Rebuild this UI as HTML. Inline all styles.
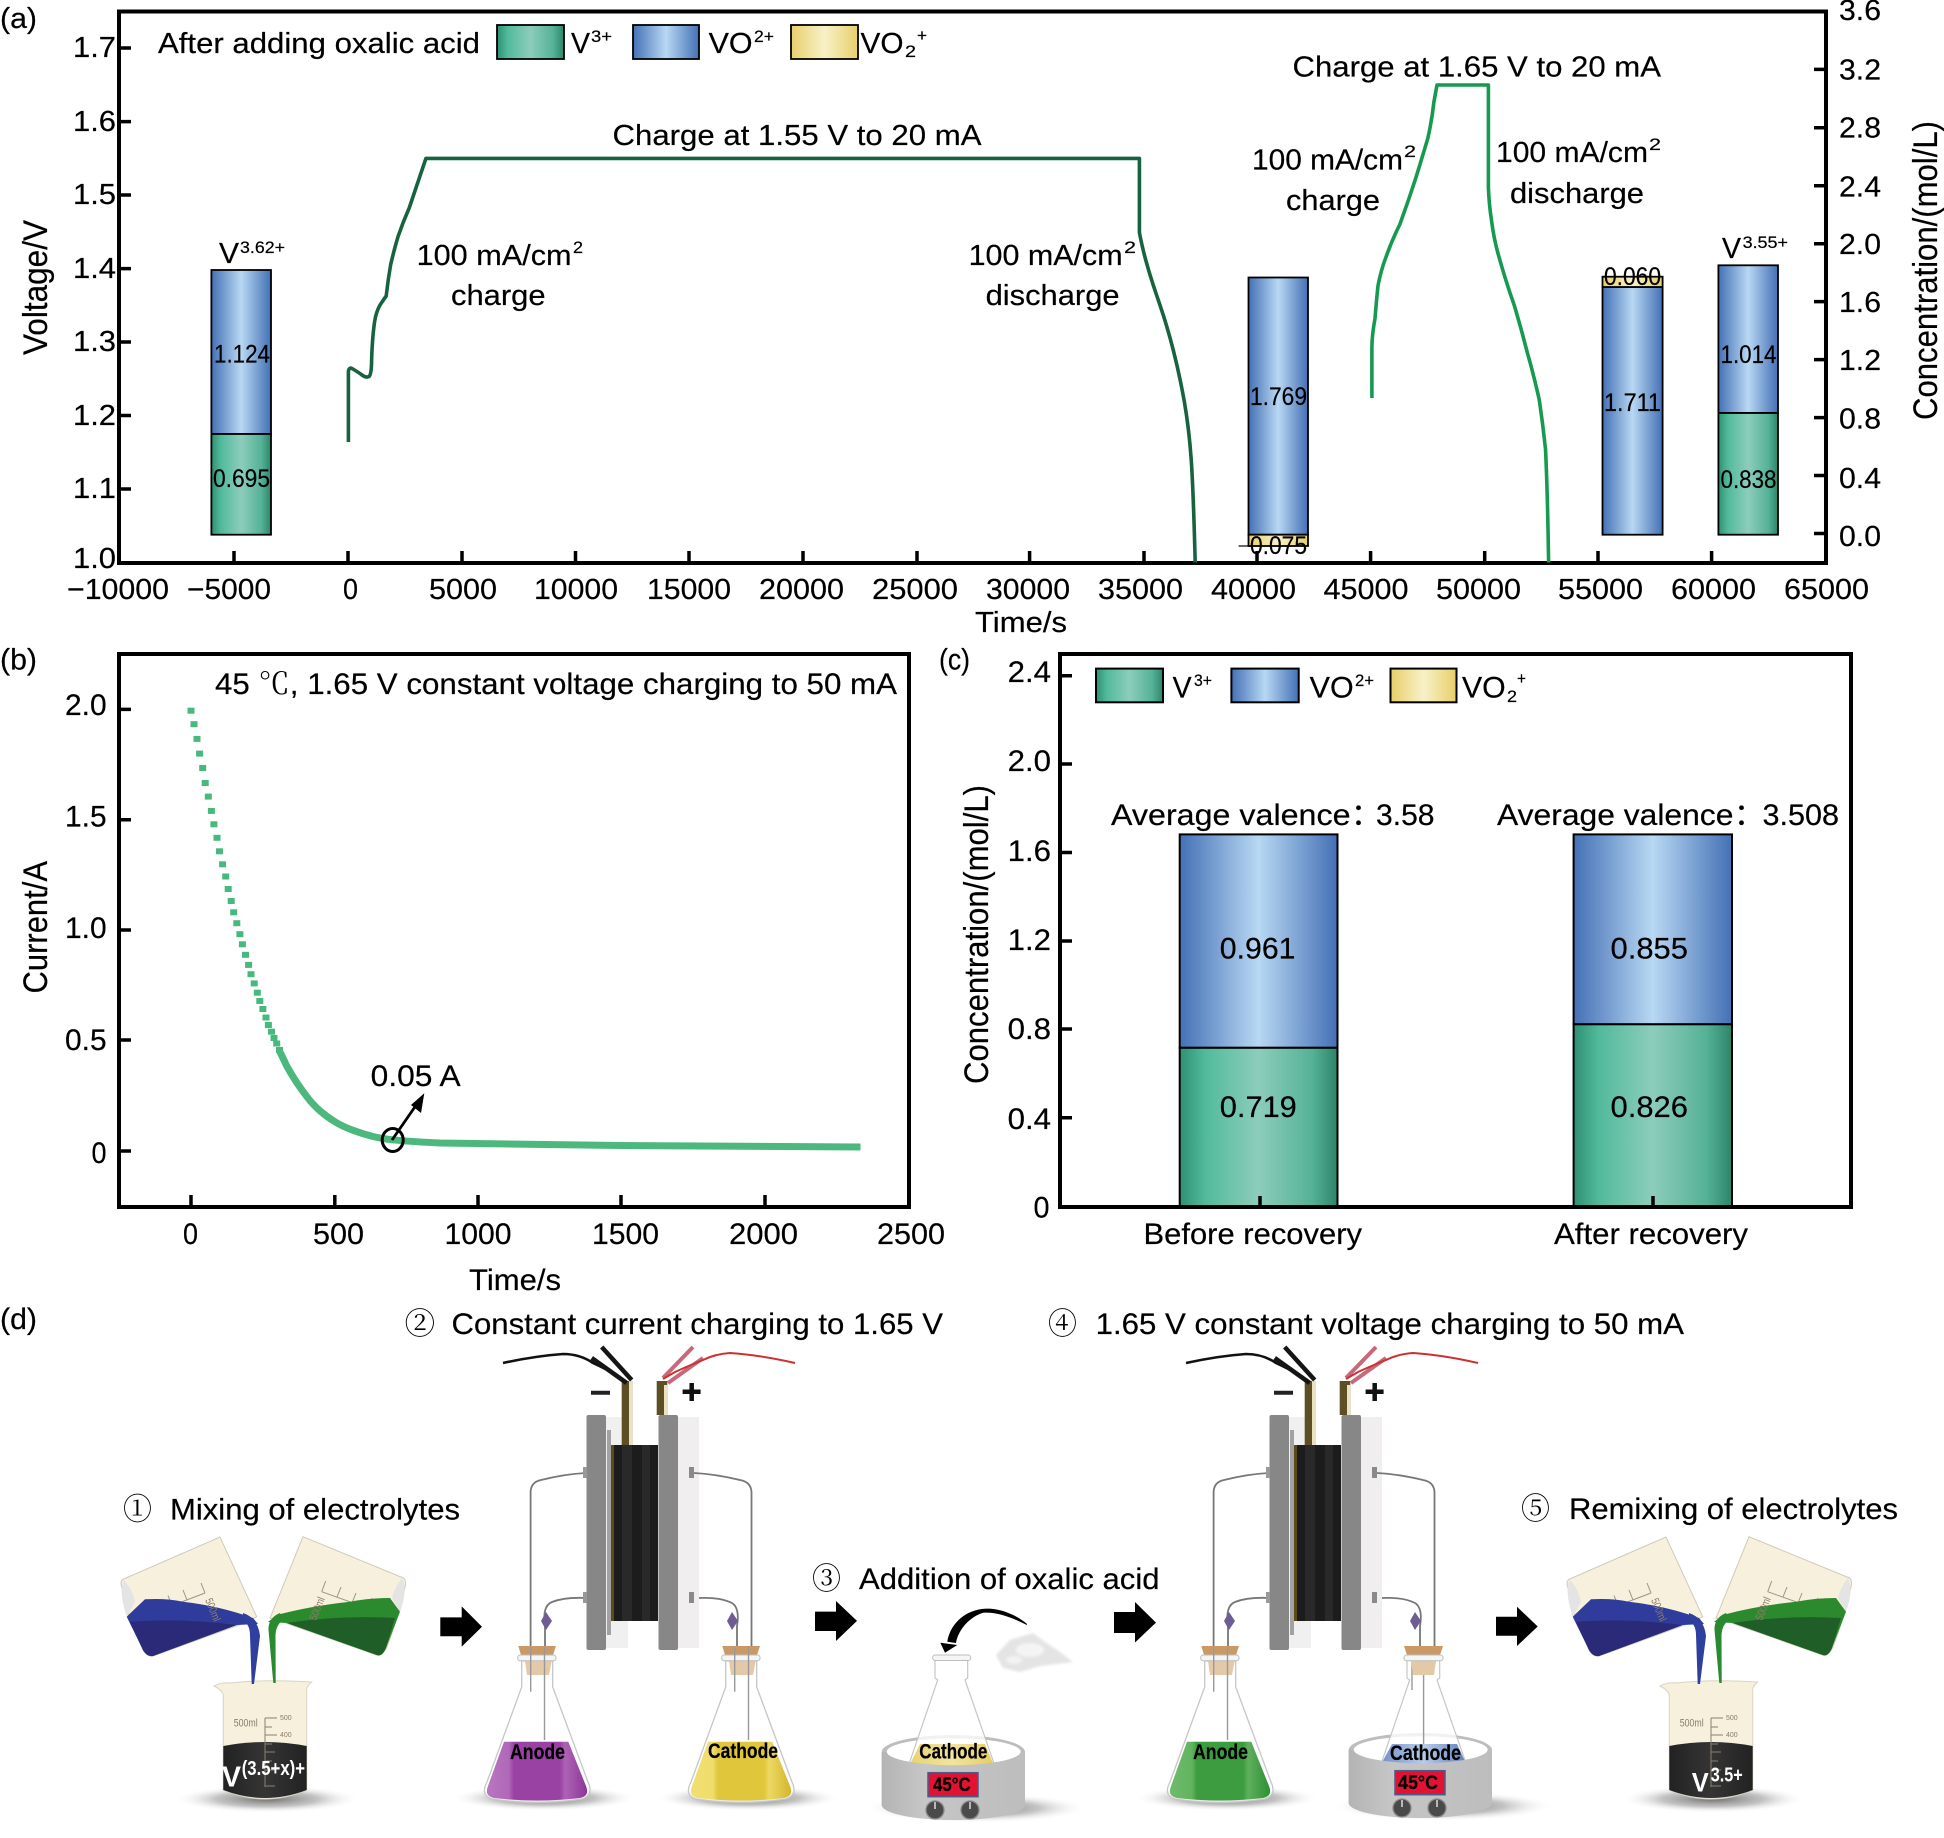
<!DOCTYPE html>
<html><head><meta charset="utf-8"><title>Figure</title>
<style>
html,body{margin:0;padding:0;background:#fff}
svg{display:block}
text{font-family:"Liberation Sans","Noto Sans CJK SC",sans-serif;fill:#000;stroke:#000;stroke-width:.2}
.s{font-family:"Noto Serif CJK SC","Liberation Serif",serif;stroke:none}
.w{fill:#fff;stroke:none}
.g{fill:#8a7d68;stroke:none}
</style></head><body>
<svg width="1944" height="1838" viewBox="0 0 1944 1838" xmlns="http://www.w3.org/2000/svg">
<defs>
<linearGradient id="gG"><stop offset="0" stop-color="#2f8f72"/><stop offset=".16" stop-color="#52ba9c"/><stop offset=".5" stop-color="#8ccdbb"/><stop offset=".84" stop-color="#55b296"/><stop offset="1" stop-color="#2c8469"/></linearGradient>
<linearGradient id="gB"><stop offset="0" stop-color="#4470b5"/><stop offset=".5" stop-color="#b8d8f3"/><stop offset="1" stop-color="#4470b5"/></linearGradient>
<linearGradient id="gY"><stop offset="0" stop-color="#e8cf6a"/><stop offset=".5" stop-color="#f8f1c8"/><stop offset="1" stop-color="#e8cf6a"/></linearGradient>
<linearGradient id="lP"><stop offset="0" stop-color="#b877c0"/><stop offset=".22" stop-color="#b067b8"/><stop offset=".27" stop-color="#9a42a4"/><stop offset=".73" stop-color="#9a42a4"/><stop offset=".78" stop-color="#ad63b5"/><stop offset="1" stop-color="#8e3598"/></linearGradient>
<linearGradient id="lY"><stop offset="0" stop-color="#f0df70"/><stop offset=".22" stop-color="#efdd6c"/><stop offset=".27" stop-color="#e0c63a"/><stop offset=".73" stop-color="#e0c63a"/><stop offset=".78" stop-color="#ecd864"/><stop offset="1" stop-color="#d4b62c"/></linearGradient>
<linearGradient id="lG"><stop offset="0" stop-color="#6fbb6c"/><stop offset=".22" stop-color="#62b45f"/><stop offset=".27" stop-color="#3c9c3f"/><stop offset=".73" stop-color="#3c9c3f"/><stop offset=".78" stop-color="#5fb05c"/><stop offset="1" stop-color="#2c8f35"/></linearGradient>
<linearGradient id="lB"><stop offset="0" stop-color="#6f8fc8"/><stop offset=".5" stop-color="#b9cbe8"/><stop offset="1" stop-color="#5c7dbd"/></linearGradient>
<linearGradient id="lyY"><stop offset="0" stop-color="#e8d26a"/><stop offset=".5" stop-color="#f1e4a0"/><stop offset="1" stop-color="#e6cc5e"/></linearGradient>
<linearGradient id="hp"><stop offset="0" stop-color="#b4b4b4"/><stop offset=".3" stop-color="#c6c6c6"/><stop offset="1" stop-color="#bdbdbd"/></linearGradient>
<linearGradient id="blk"><stop offset="0" stop-color="#222"/><stop offset=".5" stop-color="#353535"/><stop offset="1" stop-color="#222"/></linearGradient>
<radialGradient id="sh"><stop offset="0" stop-color="#6f6f6f"/><stop offset=".55" stop-color="#b0b0b0" stop-opacity=".75"/><stop offset="1" stop-color="#fff" stop-opacity="0"/></radialGradient>
<filter id="bl"><feGaussianBlur stdDeviation="1.200"/></filter>

<g id="mix">
<ellipse cx="267" cy="1799" rx="93" ry="14" fill="url(#sh)"/>
<path d="M214 1686Q222 1682 230 1683Q266 1679 311.700 1682Q306 1686 306.700 1692V1790Q265 1808 223.300 1790V1695Q222 1690 214 1686Z" fill="#f6f0dc" stroke="#d9d4c4"/>
<path d="M223.300 1746Q265 1738 306.700 1746V1790Q265 1806 223.300 1790Z" fill="url(#blk)"/>
<path d="M265 1718V1787M265 1718h12M265 1727h7M265 1735h12M265 1744h7M265 1752h10M265 1761h7M265 1770h10M265 1786h10" stroke="#8a8070" fill="none"/>
<path d="M121.700 1587Q119 1580 126 1578L220 1537L256.700 1616.700L248 1621.700L153 1656Q147 1657 143 1650L125 1605Z" fill="#f6f0dc" stroke="#cfcabb"/>
<path d="M124 1580Q118 1590 126.700 1616.700L135 1602Q133 1590 124 1580Z" fill="#e4e4e4"/>
<path d="M143 1616.700L205 1593M143 1616.700L139 1606M157 1611L153 1601M172 1605.500L168 1595.500M187 1600L183 1590M205 1593L201 1583" stroke="#9c9484" fill="none"/>
<path d="M145 1599.300Q165 1598 183 1601.700Q220 1606 253 1618L258 1624L236.700 1625L153 1656Q147 1657 143 1650L126.700 1616.700Z" fill="#2f3c9c"/>
<path d="M130 1621.700Q180 1618 236.700 1625L153 1656Q147 1657 143 1650Z" fill="#2a2a78"/>
<path d="M243 1613Q258 1618 260 1636L254 1684H251.700L250 1635Q250 1625 243 1620Z" fill="#2e3f9e"/>
<path d="M303 1536.700L401 1577Q407 1578 405 1587Q400 1612 387 1647Q382 1657 376.700 1655L280 1621L270 1618Z" fill="#f6f0dc" stroke="#cfcabb"/>
<path d="M402 1578Q408 1590 400 1611.700L392 1598Q394 1588 402 1578Z" fill="#e4e4e4"/>
<path d="M321.700 1591.700L386.700 1615M321.700 1591.700L325.700 1581M337 1597L341 1587M352 1603L356 1593M368 1608L372 1598M386.700 1615L390.700 1605" stroke="#9c9484" fill="none"/>
<path d="M390 1598Q370 1598 350 1601.700Q310 1606 276.700 1615L268 1622L286.700 1623L376.700 1655Q382 1657 386 1648L400 1611.700Z" fill="#2c8a2e"/>
<path d="M395 1618Q340 1615 286.700 1623L376.700 1655Q382 1657 386 1648Z" fill="#1f5f27"/>
<path d="M280 1613Q268 1618 268.500 1630L273.300 1683H275.700L275.500 1635Q276 1625 283 1620Z" fill="#2a8a30"/>
</g>

<g id="cell">
<rect x="606" y="1417" width="22" height="231" fill="#f1f0f0"/>
<rect x="607" y="1430" width="4" height="205" fill="#a2a2a2"/>
<rect x="611" y="1445" width="47" height="176" fill="#1c1c1c"/>
<rect x="611" y="1445" width="3" height="176" fill="#5a4a1c"/>
<rect x="622" y="1445" width="10" height="176" fill="#292929"/>
<rect x="642" y="1445" width="8" height="176" fill="#292929"/>
<rect x="586.500" y="1415" width="19.500" height="235" rx="2" fill="#878787"/>
<rect x="658.500" y="1415" width="19.500" height="235" rx="2" fill="#878787"/>
<rect x="678" y="1417" width="21" height="231" fill="#f0eeee"/>
<rect x="621.700" y="1381" width="10.600" height="64" fill="#5d4e25"/>
<rect x="629" y="1381" width="3.300" height="64" fill="#eae2c0"/>
<rect x="656.700" y="1381" width="10.600" height="34" fill="#5d4e25"/>
<rect x="664" y="1385" width="3.300" height="30" fill="#eae2c0"/>
<path d="M591 1392.700H610" stroke="#222" stroke-width="4"/>
<path d="M682.600 1391.700H700.600M691.700 1383V1401" stroke="#111" stroke-width="4.500"/>
<path d="M503 1363Q535 1356 563 1354Q580 1354 593 1363Q608 1370 620 1377" stroke="#111" stroke-width="2.600" fill="none"/>
<path d="M601.700 1347L631.700 1380M591.700 1358L626.700 1383" stroke="#151515" stroke-width="4.500" fill="none"/>
<path d="M693 1347L663 1378M703 1358L668 1383" stroke="#c8697a" stroke-width="4" fill="none"/>
<path d="M795 1363Q760 1355 730 1353Q715 1354 703 1360Q688 1366 675 1372L663 1379" stroke="#cc3030" stroke-width="2" fill="none"/>
<path d="M530.600 1647V1492Q531 1482 541 1480Q565 1474 586 1473" stroke="#777" stroke-width="1.800" fill="none"/>
<path d="M545 1647V1626Q542 1606 552 1602Q565 1597 586 1598" stroke="#777" stroke-width="1.800" fill="none"/>
<path d="M751.500 1647V1492Q751 1482 740 1480Q715 1474 694 1473" stroke="#777" stroke-width="1.800" fill="none"/>
<path d="M737 1647V1626Q740 1608 732 1603Q720 1597 699 1598" stroke="#777" stroke-width="1.800" fill="none"/>
<rect x="583" y="1467" width="4" height="11" fill="#999"/><rect x="583" y="1592" width="4" height="11" fill="#999"/>
<rect x="689" y="1467" width="5" height="11" fill="#8a8a8a"/><rect x="689" y="1592" width="5" height="11" fill="#8a8a8a"/>
<path d="M546 1612L552 1621L546 1630L541 1621Z" fill="#6e5c94"/>
<path d="M732 1612L738 1621L732 1630L727 1621Z" fill="#6e5c94"/>
</g>

<path id="liq" d="M504 1741.700H568.300L586 1786Q590 1796 580 1798Q537 1803 494 1798Q484 1796 488 1786Z"/>
<g id="fl">
<path d="M521.700 1661V1687L487 1782Q480 1795 492 1799Q537 1806 582 1799Q594 1795 588 1782L552.700 1687V1661Z" fill="#fff" fill-opacity=".75" stroke="#c6c6c6" stroke-width="1.300"/>
<path d="M525 1661H551.700L549 1675H527Z" fill="#e3c9a8"/>
<path d="M518.300 1646H556L553 1655H521Z" fill="#c99a68"/>
<rect x="517.700" y="1655" width="38.300" height="5.700" rx="2.500" fill="#f5f5f5" stroke="#bdbdbd"/>
<path d="M530.700 1647V1691.700M544.500 1647V1740" stroke="#999" stroke-width="1.400" fill="none"/>
</g>

<g id="hb">
<path d="M881.700 1752A71.600 17 0 0 1 1025 1752V1805H881.700Z" fill="#bdbdbd"/>
<ellipse cx="953.700" cy="1751.700" rx="67" ry="13.500" fill="#fff"/>
</g>
<g id="hf">
<path d="M881.700 1752L886.700 1751.700A67 13.500 0 0 0 1020.700 1751.700L1025 1752V1805A71.600 15 0 0 1 881.700 1805Z" fill="url(#hp)"/>
<rect x="928" y="1772.700" width="50" height="24" fill="#e01432" stroke="#4a5a8a" stroke-width="1.500"/>
<circle cx="935" cy="1810" r="9" fill="#4a4a4a" stroke="#8a8a8a" stroke-width="1.300"/>
<circle cx="970" cy="1810" r="9" fill="#4a4a4a" stroke="#8a8a8a" stroke-width="1.300"/>
<path d="M935 1802V1809M970 1802V1809" stroke="#ddd" stroke-width="1.500"/>
</g>
<g id="hfl">
<path d="M935 1660V1678L937.700 1680L909.300 1763.300H994L965 1680L967.700 1678V1660Z" fill="#fff" fill-opacity=".78" stroke="#c6c6c6" stroke-width="1.200"/>
</g>
</defs>

<rect width="1944" height="1838" fill="#fff"/>

<!-- PANEL A -->
<g fill="none" stroke="#000" stroke-width="1.800">
<rect x="211.400" y="270" width="59.600" height="164" fill="url(#gB)"/>
<rect x="211.400" y="434" width="59.600" height="100.700" fill="url(#gG)"/>
<rect x="1248.500" y="277.500" width="59.500" height="257.200" fill="url(#gB)"/>
<rect x="1248.500" y="534.700" width="59.500" height="11.300" fill="url(#gY)"/>
<rect x="1602.500" y="287" width="60.100" height="247.700" fill="url(#gB)"/>
<rect x="1602.500" y="276.700" width="60.100" height="10.300" fill="url(#gY)"/>
<rect x="1718.400" y="265.300" width="59.600" height="147.700" fill="url(#gB)"/>
<rect x="1718.400" y="413" width="59.600" height="121.700" fill="url(#gG)"/>
<rect x="497" y="25" width="67" height="34" fill="url(#gG)"/>
<rect x="633" y="25" width="66" height="34" fill="url(#gB)"/>
<rect x="791" y="25" width="67" height="34" fill="url(#gY)"/>
</g>
<path d="M1238.600 546H1250" stroke="#000" stroke-width="1.200"/>
<rect x="119" y="11.500" width="1707" height="551.500" fill="none" stroke="#000" stroke-width="4"/>
<path d="M234 563V551M348 563V551M462 563V551M575.500 563V551M689 563V551M803 563V551M917 563V551M1029.600 563V551M1144 563V551M1257 563V551M1370.600 563V551M1484.700 563V551M1598 563V551M1711.600 563V551M119 48h12M119 121.600h12M119 195h12M119 268.600h12M119 342h12M119 415.500h12M119 489h12M1826 69.400h-12M1826 127.800h-12M1826 185.700h-12M1826 243.700h-12M1826 301.600h-12M1826 359.600h-12M1826 417.600h-12M1826 475.500h-12M1826 533.500h-12" stroke="#000" stroke-width="3.500" fill="none"/>
<path d="M348.400 442V371.400Q349 367 352 368.500Q358 372 362 375Q366 378 369 376.500Q371 375 371.500 365Q372 340 374.500 322.400Q376 312 380 305Q384 299 386.200 296Q388 280 390.600 265Q394 250 398 236.700Q403 222 409.200 208L425.900 158.400H1139.400V232.600Q1142.500 249 1147.200 265.300Q1151.800 281.600 1159.600 304Q1167.300 326.500 1173.500 351Q1179.700 375.500 1184.400 402Q1189 428.600 1191.200 459.300Q1193.300 490 1195.200 562.500" fill="none" stroke="#17633f" stroke-width="3.600" stroke-linejoin="round"/>
<path d="M1371.900 398V347Q1372 335 1375 318.400Q1376.500 300 1378 285.700Q1381 270 1386 257Q1392 240 1399.800 224.500Q1408 202 1415.300 179.600Q1422 158 1427.700 138.800Q1432 120 1433.900 102L1437 85H1488.400V187.800Q1489 204 1491.500 220.400Q1494 240 1499 257Q1506 282 1514.500 306Q1521 328 1526.900 351Q1534 376 1539.300 400Q1543 425 1545.500 449Q1547.500 490 1548.600 562.500" fill="none" stroke="#169a50" stroke-width="3.600" stroke-linejoin="round"/>

<g font-size="29">
<text x="0" y="28" textLength="37" lengthAdjust="spacingAndGlyphs">(a)</text>
<text x="73" y="57" textLength="43" lengthAdjust="spacingAndGlyphs">1.7</text>
<text x="73" y="131" textLength="43" lengthAdjust="spacingAndGlyphs">1.6</text>
<text x="73" y="204" textLength="43" lengthAdjust="spacingAndGlyphs">1.5</text>
<text x="73" y="278" textLength="43" lengthAdjust="spacingAndGlyphs">1.4</text>
<text x="73" y="351" textLength="43" lengthAdjust="spacingAndGlyphs">1.3</text>
<text x="73" y="425" textLength="43" lengthAdjust="spacingAndGlyphs">1.2</text>
<text x="73" y="498" textLength="43" lengthAdjust="spacingAndGlyphs">1.1</text>
<text x="73" y="568" textLength="43" lengthAdjust="spacingAndGlyphs">1.0</text>
<text x="1839" y="20" textLength="42" lengthAdjust="spacingAndGlyphs">3.6</text>
<text x="1839" y="79.600" textLength="42" lengthAdjust="spacingAndGlyphs">3.2</text>
<text x="1839" y="137.500" textLength="42" lengthAdjust="spacingAndGlyphs">2.8</text>
<text x="1839" y="196.700" textLength="42" lengthAdjust="spacingAndGlyphs">2.4</text>
<text x="1839" y="254" textLength="42" lengthAdjust="spacingAndGlyphs">2.0</text>
<text x="1839" y="312" textLength="42" lengthAdjust="spacingAndGlyphs">1.6</text>
<text x="1839" y="370" textLength="42" lengthAdjust="spacingAndGlyphs">1.2</text>
<text x="1839" y="428.600" textLength="42" lengthAdjust="spacingAndGlyphs">0.8</text>
<text x="1839" y="487.800" textLength="42" lengthAdjust="spacingAndGlyphs">0.4</text>
<text x="1839" y="546" textLength="42" lengthAdjust="spacingAndGlyphs">0.0</text>
<text x="67" y="599" textLength="102" lengthAdjust="spacingAndGlyphs">−10000</text>
<text x="187" y="599" textLength="84" lengthAdjust="spacingAndGlyphs">−5000</text>
<text x="343" y="599" textLength="15" lengthAdjust="spacingAndGlyphs">0</text>
<text x="429" y="599" textLength="68" lengthAdjust="spacingAndGlyphs">5000</text>
<text x="534" y="599" textLength="84" lengthAdjust="spacingAndGlyphs">10000</text>
<text x="647" y="599" textLength="84" lengthAdjust="spacingAndGlyphs">15000</text>
<text x="759" y="599" textLength="85" lengthAdjust="spacingAndGlyphs">20000</text>
<text x="872" y="599" textLength="86" lengthAdjust="spacingAndGlyphs">25000</text>
<text x="986" y="599" textLength="84" lengthAdjust="spacingAndGlyphs">30000</text>
<text x="1098" y="599" textLength="85" lengthAdjust="spacingAndGlyphs">35000</text>
<text x="1211" y="599" textLength="85" lengthAdjust="spacingAndGlyphs">40000</text>
<text x="1323.500" y="599" textLength="85" lengthAdjust="spacingAndGlyphs">45000</text>
<text x="1436" y="599" textLength="85" lengthAdjust="spacingAndGlyphs">50000</text>
<text x="1558" y="599" textLength="85" lengthAdjust="spacingAndGlyphs">55000</text>
<text x="1671" y="599" textLength="85" lengthAdjust="spacingAndGlyphs">60000</text>
<text x="1784" y="599" textLength="85" lengthAdjust="spacingAndGlyphs">65000</text>
<text x="975" y="632" textLength="92" lengthAdjust="spacingAndGlyphs">Time/s</text>
<text x="158" y="53" textLength="322" lengthAdjust="spacingAndGlyphs">After adding oxalic acid</text>
<text x="571" y="53" textLength="19" lengthAdjust="spacingAndGlyphs">V</text>
<text x="708.600" y="53" textLength="44" lengthAdjust="spacingAndGlyphs">VO</text>
<text x="860.500" y="53" textLength="43" lengthAdjust="spacingAndGlyphs">VO</text>
<text x="612.500" y="145" textLength="369" lengthAdjust="spacingAndGlyphs">Charge at 1.55 V to 20 mA</text>
<text x="1292.500" y="76.700" textLength="368.500" lengthAdjust="spacingAndGlyphs">Charge at 1.65 V to 20 mA</text>
<text x="416.600" y="265" textLength="155" lengthAdjust="spacingAndGlyphs">100 mA/cm</text>
<text x="451" y="305" textLength="94.600" lengthAdjust="spacingAndGlyphs">charge</text>
<text x="968.600" y="265" textLength="154" lengthAdjust="spacingAndGlyphs">100 mA/cm</text>
<text x="985.600" y="305" textLength="134" lengthAdjust="spacingAndGlyphs">discharge</text>
<text x="1252" y="169.400" textLength="151" lengthAdjust="spacingAndGlyphs">100 mA/cm</text>
<text x="1286" y="210" textLength="94" lengthAdjust="spacingAndGlyphs">charge</text>
<text x="1496" y="162" textLength="152" lengthAdjust="spacingAndGlyphs">100 mA/cm</text>
<text x="1510" y="203" textLength="134" lengthAdjust="spacingAndGlyphs">discharge</text>
<text x="219" y="263" textLength="20" lengthAdjust="spacingAndGlyphs">V</text>
<text x="1722" y="258" textLength="19" lengthAdjust="spacingAndGlyphs">V</text>
</g>
<g font-size="17">
<text x="591" y="42" textLength="21" lengthAdjust="spacingAndGlyphs">3+</text>
<text x="754" y="42" textLength="20" lengthAdjust="spacingAndGlyphs">2+</text>
<text x="905" y="57" textLength="11" lengthAdjust="spacingAndGlyphs">2</text>
<text x="917" y="41" textLength="10" lengthAdjust="spacingAndGlyphs">+</text>
<text x="573" y="253" textLength="10" lengthAdjust="spacingAndGlyphs">2</text>
<text x="1124" y="253" textLength="12" lengthAdjust="spacingAndGlyphs">2</text>
<text x="1404" y="157" textLength="12" lengthAdjust="spacingAndGlyphs">2</text>
<text x="1649" y="150" textLength="12" lengthAdjust="spacingAndGlyphs">2</text>
<text x="240" y="253" textLength="45" lengthAdjust="spacingAndGlyphs">3.62+</text>
<text x="1742.600" y="248" textLength="45.400" lengthAdjust="spacingAndGlyphs">3.55+</text>
</g>
<g font-size="25">
<text x="214" y="362.400" textLength="56" lengthAdjust="spacingAndGlyphs">1.124</text>
<text x="213" y="487" textLength="57" lengthAdjust="spacingAndGlyphs">0.695</text>
<text x="1250" y="405" textLength="57" lengthAdjust="spacingAndGlyphs">1.769</text>
<text x="1250" y="554" textLength="57" lengthAdjust="spacingAndGlyphs">0.075</text>
<text x="1604" y="285" textLength="57" lengthAdjust="spacingAndGlyphs">0.060</text>
<text x="1604" y="411" textLength="57" lengthAdjust="spacingAndGlyphs">1.711</text>
<text x="1720.500" y="363" textLength="56" lengthAdjust="spacingAndGlyphs">1.014</text>
<text x="1720.500" y="487.800" textLength="56" lengthAdjust="spacingAndGlyphs">0.838</text>
</g>
<text transform="translate(47 355) rotate(-90)" font-size="34" textLength="135" lengthAdjust="spacingAndGlyphs">Voltage/V</text>
<text transform="translate(1937 420) rotate(-90)" font-size="34" textLength="299" lengthAdjust="spacingAndGlyphs">Concentration/(mol/L)</text>

<!-- PANEL B -->
<rect x="119" y="654" width="790" height="553" fill="none" stroke="#000" stroke-width="4"/>
<path d="M191 1207V1195M334.800 1207V1195M478 1207V1195M621 1207V1195M765 1207V1195M119 709.400h12M119 819.700h12M119 930h12M119 1040h12M119 1151h12" stroke="#000" stroke-width="3.500" fill="none"/>
<path d="M191 711L268 1025" stroke="#6cc795" stroke-width="0" fill="none"/>
<g fill="#46b97c">
<rect x="187.500" y="707.700" width="7" height="6"/><rect x="190.500" y="721.200" width="7" height="6"/><rect x="193.500" y="735.900" width="7" height="6"/><rect x="196.100" y="750.600" width="7" height="6"/><rect x="199.200" y="765" width="7" height="6"/><rect x="201.700" y="780" width="7" height="6"/><rect x="204.800" y="793.600" width="7" height="6"/><rect x="207.900" y="807.900" width="7" height="6"/><rect x="210.400" y="821.300" width="7" height="6"/><rect x="213.500" y="834.800" width="7" height="6"/><rect x="216" y="848.300" width="7" height="6"/><rect x="219.100" y="861.300" width="7" height="6"/><rect x="222.200" y="873.500" width="7" height="6"/><rect x="224.700" y="886" width="7" height="6"/><rect x="227.700" y="898" width="7" height="6"/><rect x="230.200" y="909.300" width="7" height="6"/><rect x="233.300" y="920.200" width="7" height="6"/><rect x="236.400" y="931.200" width="7" height="6"/><rect x="238.900" y="941.300" width="7" height="6"/><rect x="242" y="951.800" width="7" height="6"/><rect x="245.100" y="961.900" width="7" height="6"/><rect x="247.500" y="971.200" width="7" height="6"/><rect x="250.700" y="980.400" width="7" height="6"/><rect x="253.800" y="989.700" width="7" height="6"/><rect x="256.300" y="998" width="7" height="6"/><rect x="259.400" y="1006" width="7" height="6"/><rect x="262.500" y="1014.500" width="7" height="6"/><rect x="264.900" y="1022" width="7" height="6"/><rect x="268" y="1028.700" width="7" height="6"/><rect x="270.500" y="1035" width="7" height="6"/><rect x="273.200" y="1040.500" width="7" height="6"/><rect x="276" y="1047" width="7" height="6"/>
</g>
<path d="M279 1050Q283 1058 287 1066.500Q291.700 1075 296.700 1082.500Q301.700 1090 307.500 1097.500Q313.300 1105 320 1110.800Q326.700 1116.700 334.800 1121.700Q343 1126.700 353 1130.300Q363 1134 373 1136.500Q383 1139 398 1140.300Q413 1141.700 440 1143L620 1145.500L860.500 1147" fill="none" stroke="#4cb87e" stroke-width="7"/>
<ellipse cx="392.700" cy="1140" rx="10.500" ry="11.500" fill="none" stroke="#000" stroke-width="3"/>
<path d="M392 1140L419 1101" stroke="#000" stroke-width="2.800"/>
<path d="M424.300 1093.300L411 1105L421 1113Z" fill="#000"/>
<g font-size="30">
<text x="0" y="669.500" textLength="37" lengthAdjust="spacingAndGlyphs">(b)</text>
<text x="65" y="715" textLength="41.600" lengthAdjust="spacingAndGlyphs">2.0</text>
<text x="65" y="826.400" textLength="41.600" lengthAdjust="spacingAndGlyphs">1.5</text>
<text x="65" y="938" textLength="41.600" lengthAdjust="spacingAndGlyphs">1.0</text>
<text x="65" y="1050" textLength="41.600" lengthAdjust="spacingAndGlyphs">0.5</text>
<text x="91.500" y="1163" textLength="15" lengthAdjust="spacingAndGlyphs">0</text>
<text x="183" y="1244" textLength="15" lengthAdjust="spacingAndGlyphs">0</text>
<text x="313" y="1244" textLength="51" lengthAdjust="spacingAndGlyphs">500</text>
<text x="444.500" y="1244" textLength="67" lengthAdjust="spacingAndGlyphs">1000</text>
<text x="592" y="1244" textLength="67" lengthAdjust="spacingAndGlyphs">1500</text>
<text x="729" y="1244" textLength="69" lengthAdjust="spacingAndGlyphs">2000</text>
<text x="877" y="1244" textLength="68" lengthAdjust="spacingAndGlyphs">2500</text>
<text x="469" y="1290" textLength="92" lengthAdjust="spacingAndGlyphs">Time/s</text>
<text x="370.700" y="1086" textLength="90" lengthAdjust="spacingAndGlyphs">0.05 A</text>
<text x="215" y="694" textLength="682" lengthAdjust="spacingAndGlyphs">45 <tspan class="s">℃</tspan>, 1.65 V constant voltage charging to 50 mA</text>
</g>
<text transform="translate(47 993.500) rotate(-90)" font-size="34" textLength="132.500" lengthAdjust="spacingAndGlyphs">Current/A</text>

<!-- PANEL C -->
<g stroke="#000" stroke-width="2">
<rect x="1179.700" y="834.400" width="157.800" height="213.400" fill="url(#gB)"/>
<rect x="1179.700" y="1047.800" width="157.800" height="159.200" fill="url(#gG)"/>
<rect x="1573.600" y="834.400" width="158.400" height="189.900" fill="url(#gB)"/>
<rect x="1573.600" y="1024.300" width="158.400" height="182.700" fill="url(#gG)"/>
<rect x="1096" y="668.600" width="67" height="33.700" fill="url(#gG)"/>
<rect x="1231.400" y="668.600" width="67.300" height="33.700" fill="url(#gB)"/>
<rect x="1390.500" y="668.600" width="66" height="33.700" fill="url(#gY)"/>
</g>
<rect x="1060" y="654" width="791" height="553" fill="none" stroke="#000" stroke-width="4"/>
<path d="M1260 1207V1196M1653 1207V1196M1060 675.800h12M1060 764h12M1060 852.500h12M1060 941h12M1060 1029h12M1060 1117.700h12" stroke="#000" stroke-width="3.500" fill="none"/>
<g font-size="30">
<text x="939" y="669.500" textLength="31" lengthAdjust="spacingAndGlyphs">(c)</text>
<text x="1007.600" y="682" textLength="43.400" lengthAdjust="spacingAndGlyphs">2.4</text>
<text x="1007.600" y="771" textLength="43.400" lengthAdjust="spacingAndGlyphs">2.0</text>
<text x="1007.600" y="861" textLength="43.400" lengthAdjust="spacingAndGlyphs">1.6</text>
<text x="1007.600" y="950" textLength="43.400" lengthAdjust="spacingAndGlyphs">1.2</text>
<text x="1007.600" y="1039" textLength="43.400" lengthAdjust="spacingAndGlyphs">0.8</text>
<text x="1007.600" y="1129" textLength="43.400" lengthAdjust="spacingAndGlyphs">0.4</text>
<text x="1033.500" y="1217.500" textLength="16" lengthAdjust="spacingAndGlyphs">0</text>
<text x="1219.800" y="958.600" textLength="75.700" lengthAdjust="spacingAndGlyphs">0.961</text>
<text x="1610.500" y="958.600" textLength="77.500" lengthAdjust="spacingAndGlyphs">0.855</text>
<text x="1219.800" y="1117" textLength="77" lengthAdjust="spacingAndGlyphs">0.719</text>
<text x="1610.500" y="1117" textLength="77.500" lengthAdjust="spacingAndGlyphs">0.826</text>
<text x="1111" y="825" textLength="239.500" lengthAdjust="spacingAndGlyphs">Average valence</text>
<text x="1351" y="825">：</text>
<text x="1376" y="825" textLength="58.500" lengthAdjust="spacingAndGlyphs">3.58</text>
<text x="1497" y="825" textLength="236.400" lengthAdjust="spacingAndGlyphs">Average valence</text>
<text x="1734" y="825">：</text>
<text x="1762.500" y="825" textLength="76.500" lengthAdjust="spacingAndGlyphs">3.508</text>
<text x="1143.500" y="1244" textLength="218.500" lengthAdjust="spacingAndGlyphs">Before recovery</text>
<text x="1554" y="1244" textLength="194" lengthAdjust="spacingAndGlyphs">After recovery</text>
<text x="1172.600" y="697.600" textLength="19" lengthAdjust="spacingAndGlyphs">V</text>
<text x="1309.700" y="697.600" textLength="44" lengthAdjust="spacingAndGlyphs">VO</text>
<text x="1462" y="697.600" textLength="43.700" lengthAdjust="spacingAndGlyphs">VO</text>
</g>
<g font-size="17">
<text x="1194" y="686" textLength="18" lengthAdjust="spacingAndGlyphs">3+</text>
<text x="1355" y="686" textLength="19" lengthAdjust="spacingAndGlyphs">2+</text>
<text x="1507" y="702" textLength="10" lengthAdjust="spacingAndGlyphs">2</text>
<text x="1517" y="684" textLength="9" lengthAdjust="spacingAndGlyphs">+</text>
</g>
<text transform="translate(988 1084) rotate(-90)" font-size="34" textLength="299" lengthAdjust="spacingAndGlyphs">Concentration/(mol/L)</text>

<!-- PANEL D -->
<g font-size="30">
<text x="0" y="1329" textLength="37" lengthAdjust="spacingAndGlyphs">(d)</text>
<text x="451.500" y="1334" textLength="491.500" lengthAdjust="spacingAndGlyphs">Constant current charging to 1.65 V</text>
<text x="170" y="1519.600" textLength="290" lengthAdjust="spacingAndGlyphs">Mixing of electrolytes</text>
<text x="859" y="1589" textLength="300.500" lengthAdjust="spacingAndGlyphs">Addition of oxalic acid</text>
<text x="1095.600" y="1334" textLength="588.400" lengthAdjust="spacingAndGlyphs">1.65 V constant voltage charging to 50 mA</text>
<text x="1569" y="1519" textLength="329" lengthAdjust="spacingAndGlyphs">Remixing of electrolytes</text>
</g>
<g font-size="30">
<text class="s" x="404.600" y="1334" textLength="30.500" lengthAdjust="spacingAndGlyphs">②</text>
<text class="s" x="123" y="1519.600" textLength="29" lengthAdjust="spacingAndGlyphs">①</text>
<text class="s" x="812" y="1589" textLength="29" lengthAdjust="spacingAndGlyphs">③</text>
<text class="s" x="1048" y="1334" textLength="29" lengthAdjust="spacingAndGlyphs">④</text>
<text class="s" x="1521" y="1519" textLength="29" lengthAdjust="spacingAndGlyphs">⑤</text>
</g>

<use href="#mix"/>
<use href="#mix" transform="translate(1446 0)"/>
<text class="g" x="233.700" y="1726.600" font-size="11" textLength="24" lengthAdjust="spacingAndGlyphs">500ml</text>
<text class="g" x="1679.700" y="1726.600" font-size="11" textLength="24" lengthAdjust="spacingAndGlyphs">500ml</text>
<text class="g" x="280" y="1720" font-size="7">500</text><text class="g" x="280" y="1737" font-size="7">400</text>
<text class="g" x="1726" y="1720" font-size="7">500</text><text class="g" x="1726" y="1737" font-size="7">400</text>
<text class="g" transform="translate(205 1600) rotate(68)" font-size="11" textLength="24" lengthAdjust="spacingAndGlyphs">500ml</text>
<text class="g" transform="translate(1651 1600) rotate(68)" font-size="11" textLength="24" lengthAdjust="spacingAndGlyphs">500ml</text>
<text class="g" transform="translate(316 1621) rotate(-68)" font-size="11" textLength="24" lengthAdjust="spacingAndGlyphs">500ml</text>
<text class="g" transform="translate(1762 1621) rotate(-68)" font-size="11" textLength="24" lengthAdjust="spacingAndGlyphs">500ml</text>
<text class="w" x="222" y="1786.700" font-size="29" font-weight="bold" textLength="19" lengthAdjust="spacingAndGlyphs">V</text>
<text class="w" x="241.700" y="1775" font-size="20" font-weight="bold" textLength="63.300" lengthAdjust="spacingAndGlyphs">(3.5+x)+</text>
<text class="w" x="1691.700" y="1791.700" font-size="27" font-weight="bold" textLength="17" lengthAdjust="spacingAndGlyphs">V</text>
<text class="w" x="1710.700" y="1781.700" font-size="20" font-weight="bold" textLength="32" lengthAdjust="spacingAndGlyphs">3.5+</text>

<!-- arrows -->
<path d="M440.300 1617.400H461.700V1606.400L482 1626.700L461.700 1646.600V1636.300H440.300Z" fill="#000"/>
<path d="M815 1611.600H836V1601L857 1620.900L836 1641V1631H815Z" fill="#000"/>
<path d="M1114 1612H1135V1602L1156 1622.600L1135 1642.500V1633H1114Z" fill="#000"/>
<path d="M1496 1616.700H1517V1606.700L1537.700 1626.500L1517 1646V1635.700H1496Z" fill="#000"/>

<!-- cells & flasks -->
<use href="#cell"/>
<use href="#cell" transform="translate(683 0)"/>

<ellipse cx="544" cy="1798" rx="93" ry="13" fill="url(#sh)"/>
<ellipse cx="748" cy="1798" rx="93" ry="13" fill="url(#sh)"/>
<ellipse cx="1227" cy="1798" rx="93" ry="13" fill="url(#sh)"/>
<ellipse cx="976.700" cy="1808" rx="112" ry="15" fill="url(#sh)"/>
<ellipse cx="1443" cy="1806" rx="112" ry="15" fill="url(#sh)"/>

<use href="#fl"/>
<use href="#fl" transform="translate(204 0)"/>
<use href="#fl" transform="translate(683 0)"/>
<use href="#liq" fill="url(#lP)"/>
<use href="#liq" fill="url(#lY)" transform="translate(204 0)"/>
<use href="#liq" fill="url(#lG)" transform="translate(683 0)"/>
<text x="510" y="1759" font-size="21" font-weight="bold" textLength="55" lengthAdjust="spacingAndGlyphs">Anode</text>
<text x="708" y="1758" font-size="21" font-weight="bold" textLength="70" lengthAdjust="spacingAndGlyphs">Cathode</text>
<text x="1193" y="1759" font-size="21" font-weight="bold" textLength="55" lengthAdjust="spacingAndGlyphs">Anode</text>

<!-- hotplate 1 -->
<use href="#hb"/>
<use href="#hfl"/>
<path d="M920 1744H985L996 1770H907Z" fill="url(#lyY)"/>
<rect x="932.700" y="1655" width="38" height="5.500" rx="2.500" fill="#f5f5f5" stroke="#bdbdbd"/>
<use href="#hf"/>
<text x="919.300" y="1758.300" font-size="21" font-weight="bold" textLength="68" lengthAdjust="spacingAndGlyphs">Cathode</text>
<text x="933" y="1791" font-size="19" font-weight="bold" textLength="37.700" lengthAdjust="spacingAndGlyphs">45°C</text>

<!-- powder -->
<g filter="url(#bl)">
<path d="M996 1655L1010 1640L1033 1633L1045 1642L1060 1652L1073 1662L1040 1666L1020 1672L1003 1668Z" fill="#e4e4e4"/>
<ellipse cx="1030" cy="1650" rx="14" ry="7" fill="#f4f4f4"/><ellipse cx="1014" cy="1660" rx="8" ry="4" fill="#f2f2f2"/>
</g>
<path d="M1027 1624C1016.700 1615 998 1606.700 981.700 1609C963 1611.700 950 1625 947.300 1641.700L956 1643C957.300 1633 966.700 1618 983 1612.700C1000 1611.700 1016.700 1620 1026.700 1625Z" fill="#000"/>
<path d="M940.300 1642.700L945 1652.700L957.300 1645Z" fill="#000"/>

<!-- hotplate 2 -->
<g transform="translate(467 -2)"><use href="#hb"/></g>
<use href="#hfl" transform="translate(472 0)"/>
<path d="M1423.600 1647V1745M1412 1660V1690" stroke="#999" stroke-width="1.400" fill="none"/>
<path d="M1392 1744H1457L1468 1768H1379Z" fill="url(#lB)"/>
<path d="M1411 1661H1436L1434 1675H1413Z" fill="#e3c9a8"/>
<path d="M1404 1646H1443L1440 1655H1407Z" fill="#c99a68"/>
<rect x="1404" y="1655" width="39" height="5.700" rx="2.500" fill="#f5f5f5" stroke="#bdbdbd"/>
<g transform="translate(467 -2)"><use href="#hf"/></g>
<text x="1390" y="1760" font-size="21" font-weight="bold" textLength="71" lengthAdjust="spacingAndGlyphs">Cathode</text>
<text x="1398" y="1789" font-size="19" font-weight="bold" textLength="40" lengthAdjust="spacingAndGlyphs">45°C</text>
</svg>
</body></html>
